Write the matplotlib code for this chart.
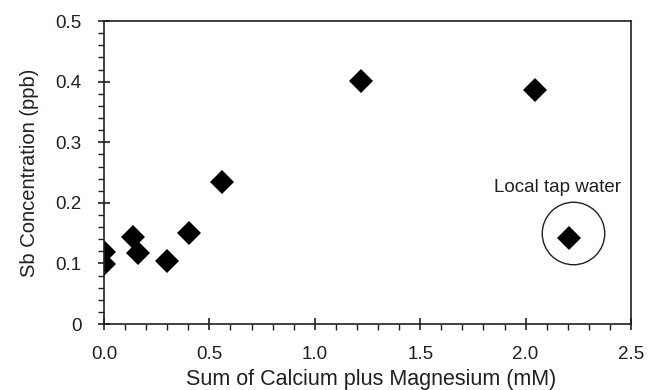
import matplotlib.pyplot as plt
from matplotlib.ticker import MultipleLocator

plt.rcParams['font.family'] = ['Liberation Sans', 'DejaVu Sans']

# data
ca_mg = [0.0, 0.0, 0.136, 0.163, 0.30, 0.405, 0.561, 1.219, 2.045, 2.207]
sb_ppb = [0.119, 0.099, 0.143, 0.118, 0.104, 0.150, 0.235, 0.401, 0.386, 0.142]
tap_x, tap_y = 2.226, 0.150
x_ticks = [0.0, 0.5, 1.0, 1.5, 2.0, 2.5]
x_labels = ['0.0', '0.5', '1.0', '1.5', '2.0', '2.5']
y_ticks = [0.0, 0.1, 0.2, 0.3, 0.4, 0.5]
y_labels = ['0', '0.1', '0.2', '0.3', '0.4', '0.5']

ink = '#231f20'

fig = plt.figure(figsize=(6.48, 3.9), dpi=100)
ax = fig.add_axes([0.1605, 0.169, 0.8133, 0.777])

ax.plot(ca_mg, sb_ppb, linestyle='none', marker='D', markersize=12.5,
        color='black', markeredgewidth=0)

# circle around the tap water sample
ax.plot([tap_x], [tap_y], linestyle='none', marker='o', markersize=45,
        markerfacecolor='none', markeredgecolor=ink, markeredgewidth=1.0)
ax.text(2.149, 0.226, 'Local tap water', ha='center', va='center',
        fontsize=13.5, color=ink)

ax.set_xlim(0, 2.5)
ax.set_ylim(0, 0.5)
ax.set_xticks(x_ticks)
ax.set_xticklabels(x_labels)
ax.set_yticks(y_ticks)
ax.set_yticklabels(y_labels)
ax.xaxis.set_minor_locator(MultipleLocator(0.1))
ax.yaxis.set_minor_locator(MultipleLocator(0.02))

ax.tick_params(which='major', direction='inout', length=8, width=1.2,
               labelsize=13.5, colors=ink)
ax.tick_params(which='minor', direction='out', length=4, width=1.0, colors=ink)
ax.tick_params(axis='x', which='major', pad=12)
ax.tick_params(axis='y', which='major', pad=12)

for s in ax.spines.values():
    s.set_linewidth(1.2)
    s.set_color(ink)

ax.set_xlabel('Sum of Calcium plus Magnesium (mM)', fontsize=15.5, color=ink)
ax.xaxis.set_label_coords(0.506, -0.148)
ax.set_ylabel('Sb Concentration (ppb)', fontsize=14.5, color=ink, labelpad=12)

fig.savefig('out.png', dpi=100)
